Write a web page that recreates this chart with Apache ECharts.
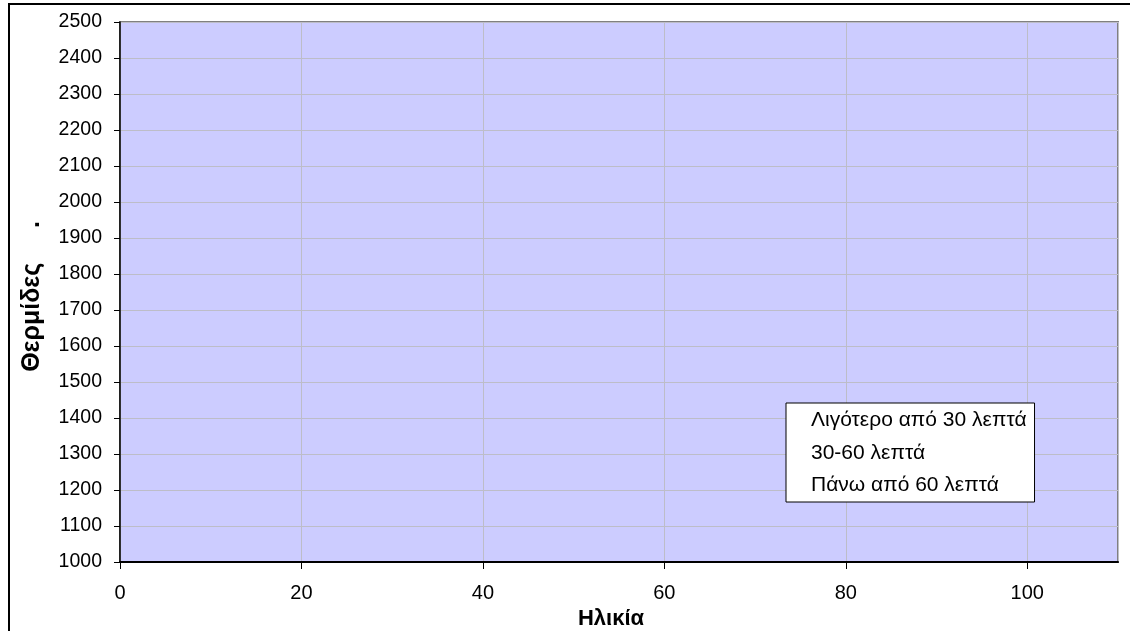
<!DOCTYPE html>
<html>
<head>
<meta charset="utf-8">
<script src="https://cdn.jsdelivr.net/npm/echarts@6/dist/echarts.min.js"></script>
<style>
html,body{margin:0;padding:0;background:#fff;}
#c{width:1130px;height:631px;}
</style>
</head>
<body>
<div id="c"></div>
<script>
// Series names (legend) and data: the reference chart has no plotted points
const seriesNames = ['Λιγότερο από 30 λεπτά', '30-60 λεπτά', 'Πάνω από 60 λεπτά'];
const lessThan30 = [];
const from30to60 = [];
const over60 = [];
const xTitle = 'Ηλικία';
const yTitle = 'Θερμίδες     .';

const chart = echarts.init(document.getElementById('c'), null, {renderer: 'canvas'});
const font = 'Arial, "Liberation Sans", sans-serif';
const plain = v => String(v);
chart.setOption({
  animation: false,
  backgroundColor: '#ffffff',
  textStyle: {fontFamily: font},
  graphic: [{
    type: 'rect', silent: true, z: -10,
    shape: {x: 9, y: 4, width: 1200, height: 700},
    style: {fill: 'none', stroke: '#000', lineWidth: 2}
  }],
  grid: {
    left: 120, top: 22, right: 12, bottom: 69,
    outerBoundsMode: 'none', containLabel: false,
    show: true, backgroundColor: '#CCCCFF', borderColor: '#808080', borderWidth: 2
  },
  legend: {
    orient: 'vertical',
    left: 786, top: 403,
    backgroundColor: '#ffffff',
    borderColor: '#000', borderWidth: 1,
    padding: [7, 8, 6, 6],
    itemWidth: 14, itemHeight: 14, itemGap: 11.5,
    icon: 'rect',
    itemStyle: {opacity: 0},
    textStyle: {fontSize: 21, color: '#000', fontFamily: font},
    data: seriesNames
  },
  xAxis: {
    type: 'value', min: 0, max: 110, interval: 20,
    name: xTitle, nameLocation: 'middle', nameGap: 23,
    nameTextStyle: {fontSize: 22, fontWeight: 'bold', color: '#000', fontFamily: font, padding: [0, 16, 0, 0]},
    axisLine: {show: true, lineStyle: {color: '#000', width: 2}},
    axisTick: {show: true, inside: false, length: 7, lineStyle: {color: '#000'}},
    axisLabel: {fontSize: 20, color: '#000', margin: 21, showMaxLabel: false, fontFamily: font, formatter: plain},
    splitLine: {show: true, lineStyle: {color: '#BDBDC8', width: 1}}
  },
  yAxis: {
    type: 'value', min: 1000, max: 2500, interval: 100,
    name: yTitle, nameLocation: 'middle', nameGap: 75,
    nameTextStyle: {fontSize: 25, fontWeight: 'bold', color: '#000', fontFamily: font, padding: [0, 9, 0, 0]},
    axisLine: {show: true, lineStyle: {color: '#000', width: 1.5}},
    axisTick: {show: true, inside: false, length: 6, lineStyle: {color: '#000'}},
    axisLabel: {fontSize: 19.5, color: '#000', margin: 18, fontFamily: font, formatter: plain},
    splitLine: {show: true, lineStyle: {color: '#BDBDC8', width: 1}}
  },
  series: [
    {name: seriesNames[0], type: 'scatter', data: lessThan30},
    {name: seriesNames[1], type: 'scatter', data: from30to60},
    {name: seriesNames[2], type: 'scatter', data: over60}
  ]
});
</script>
</body>
</html>
